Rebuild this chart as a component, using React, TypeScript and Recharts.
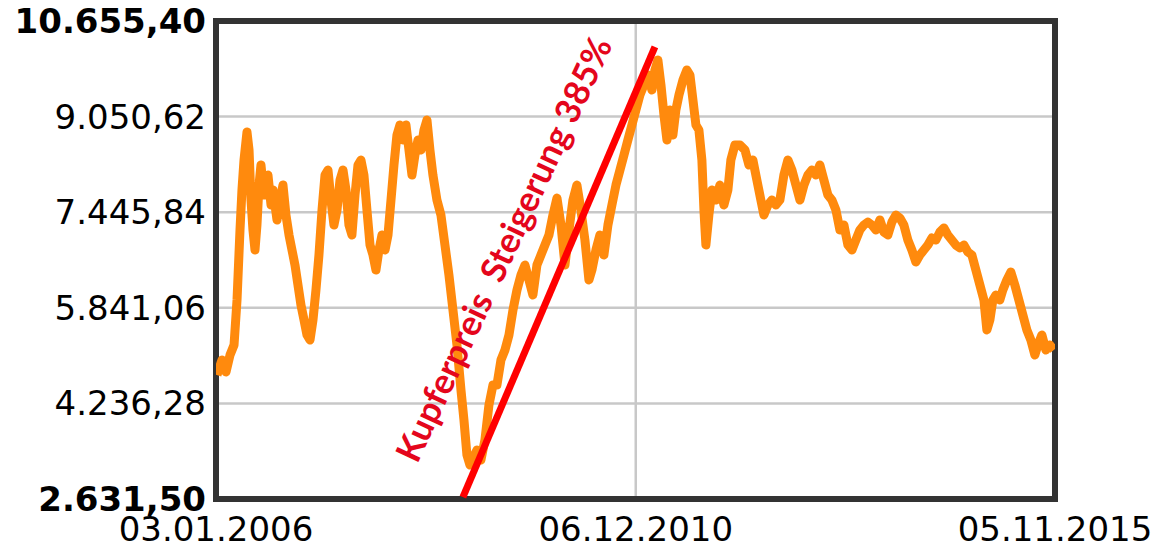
import React from 'react';
import {
  LineChart,
  Line,
  XAxis,
  YAxis,
  CartesianGrid,
  ReferenceArea,
  ReferenceLine,
  ReferenceDot,
} from 'recharts';

// x values are decimal years, prices in USD/t
const years = [
  2006.017, 2006.076, 2006.123, 2006.170, 2006.217, 2006.252, 2006.287, 2006.310, 2006.334, 2006.369,
  2006.393, 2006.416, 2006.439, 2006.463, 2006.486, 2006.510, 2006.533, 2006.568, 2006.592, 2006.615,
  2006.651, 2006.674, 2006.721, 2006.756, 2006.791, 2006.826, 2006.862, 2006.897, 2006.932, 2006.967,
  2007.002, 2007.038, 2007.073, 2007.108, 2007.143, 2007.178, 2007.213, 2007.249, 2007.284, 2007.319,
  2007.354, 2007.389, 2007.425, 2007.460, 2007.495, 2007.530, 2007.565, 2007.600, 2007.636, 2007.671,
  2007.706, 2007.741, 2007.776, 2007.812, 2007.847, 2007.882, 2007.917, 2007.952, 2007.988, 2008.023,
  2008.058, 2008.093, 2008.128, 2008.163, 2008.199, 2008.234, 2008.269, 2008.304, 2008.339, 2008.375,
  2008.410, 2008.445, 2008.480, 2008.515, 2008.550, 2008.597, 2008.644, 2008.691, 2008.738, 2008.785,
  2008.832, 2008.879, 2008.914, 2008.949, 2008.984, 2009.020, 2009.067, 2009.113, 2009.160, 2009.207,
  2009.254, 2009.301, 2009.348, 2009.395, 2009.442, 2009.489, 2009.536, 2009.583, 2009.630, 2009.676,
  2009.723, 2009.770, 2009.817, 2009.864, 2009.911, 2009.958, 2010.005, 2010.052, 2010.099, 2010.146,
  2010.192, 2010.239, 2010.286, 2010.333, 2010.380, 2010.415, 2010.462, 2010.509, 2010.556, 2010.603,
  2010.650, 2010.697, 2010.744, 2010.791, 2010.837, 2010.884, 2010.931, 2010.978, 2011.025, 2011.072,
  2011.119, 2011.154, 2011.189, 2011.225, 2011.260, 2011.295, 2011.330, 2011.365, 2011.400, 2011.436,
  2011.483, 2011.529, 2011.565, 2011.600, 2011.635, 2011.670, 2011.705, 2011.729, 2011.752, 2011.787,
  2011.823, 2011.870, 2011.916, 2011.963, 2012.010, 2012.045, 2012.092, 2012.151, 2012.210, 2012.257,
  2012.303, 2012.350, 2012.397, 2012.432, 2012.479, 2012.526, 2012.573, 2012.620, 2012.667, 2012.714,
  2012.761, 2012.808, 2012.855, 2012.902, 2012.948, 2012.995, 2013.042, 2013.089, 2013.136, 2013.183,
  2013.230, 2013.277, 2013.324, 2013.371, 2013.418, 2013.465, 2013.511, 2013.558, 2013.605, 2013.652,
  2013.699, 2013.746, 2013.793, 2013.840, 2013.887, 2013.934, 2013.981, 2014.028, 2014.074, 2014.121,
  2014.168, 2014.215, 2014.262, 2014.309, 2014.356, 2014.403, 2014.450, 2014.497, 2014.544, 2014.590,
  2014.637, 2014.684, 2014.731, 2014.778, 2014.825, 2014.872, 2014.919, 2014.966, 2015.013, 2015.048,
  2015.083, 2015.118, 2015.153, 2015.200, 2015.235, 2015.282, 2015.329, 2015.376, 2015.423, 2015.470,
  2015.517, 2015.564, 2015.611, 2015.646, 2015.693, 2015.740, 2015.787, 2015.834,
];

const prices = [
  4713, 4965, 4763, 5049, 5216, 5972, 7147, 7818, 8322, 8792,
  8490, 7650, 7147, 6811, 7231, 7902, 8238, 7734, 7986, 8070,
  7567, 7818, 7315, 7650, 7902, 7399, 7063, 6811, 6559, 6224,
  5888, 5636, 5384, 5300, 5636, 6140, 6727, 7483, 8070, 8154,
  7650, 7231, 7483, 7986, 8154, 7818, 7231, 7063, 7734, 8238,
  8322, 8070, 7483, 6895, 6727, 6475, 6811, 7063, 6811, 7063,
  7650, 8238, 8742, 8909, 8658, 8909, 8490, 8070, 8406, 8658,
  8490, 8826, 8993, 8490, 8070, 7650, 7399, 6895, 6391, 5804,
  5216, 4461, 3958, 3370, 3202, 3320, 3454, 3286, 3622, 4209,
  4545, 4545, 4965, 5133, 5384, 5804, 6140, 6391, 6559, 6308,
  6056, 6559, 6727, 6895, 7063, 7399, 7684, 7231, 6559, 7147,
  7650, 7902, 7483, 6979, 6308, 6475, 6811, 7063, 6727, 7231,
  7567, 7902, 8154, 8406, 8658, 8909, 9161, 9413, 9581, 9749,
  9497, 9833, 10000, 9581, 9077, 8658, 9161, 8742, 9161, 9413,
  9665, 9833, 9749, 9329, 8909, 8826, 8322, 7483, 6895, 7399,
  7818, 7650, 7902, 7567, 7818, 8322, 8574, 8574, 8490, 8238,
  8322, 7986, 7650, 7399, 7567, 7650, 7567, 7650, 8070, 8322,
  8154, 7902, 7650, 7902, 8070, 8154, 8070, 8238, 7986, 7734,
  7650, 7483, 7147, 7231, 6895, 6811, 6979, 7147, 7231, 7281,
  7231, 7147, 7315, 7113, 7063, 7281, 7399, 7348, 7231, 6979,
  6811, 6610, 6727, 6811, 6895, 7013, 6979, 7113, 7180, 7063,
  6979, 6895, 6845, 6895, 6778, 6727, 6475, 6224, 5972, 5468,
  5636, 5972, 6056, 5972, 6140, 6308, 6442, 6224, 5972, 5720,
  5468, 5300, 5049, 5216, 5384, 5133, 5216, 5133,
];

const xTicks = [2006.0055, 2010.929, 2015.847];
const xTickLabels = ['03.01.2006', '06.12.2010', '05.11.2015'];

const yTicks = [2631.5, 4236.28, 5841.06, 7445.84, 9050.62, 10655.4];
const yTickLabels = ['2.631,50', '4.236,28', '5.841,06', '7.445,84', '9.050,62', '10.655,40'];

// red trend annotation (start / end of the rise)
const trendStart = { x: 2008.902, y: 2665 };
const trendEnd = { x: 2011.154, y: 10219 };
const trendText = 'Kupferpreis  Steigerung 385%';
const trendTextAt = { x: 2009.42, y: 6800 };

const data = years.map((x, i) => ({ x, price: prices[i] }));

const FONT = '"DejaVu Sans", Verdana, sans-serif';

const YTick = (props: any) => {
  const { x, y, payload } = props;
  const idx = yTicks.indexOf(payload.value);
  const bold = idx === 0 || idx === yTicks.length - 1;
  return (
    <text
      x={x}
      y={y}
      dy="0.355em"
      textAnchor="end"
      fontSize={34}
      fontFamily={FONT}
      fontWeight={bold ? 'bold' : 'normal'}
      fill="#000"
    >
      {yTickLabels[idx]}
    </text>
  );
};

const XTick = (props: any) => {
  const { x, y, payload } = props;
  const idx = xTicks.indexOf(payload.value);
  return (
    <text x={x} y={y} dy="0.71em" textAnchor="middle" fontSize={34} fontFamily={FONT} fill="#000">
      {xTickLabels[idx]}
    </text>
  );
};

const TrendLabel = (props: any) => {
  const { cx, cy } = props;
  return (
    <text
      x={cx}
      y={cy}
      textAnchor="middle"
      dominantBaseline="middle"
      transform={`rotate(-65, ${cx}, ${cy})`}
      fontSize={35}
      fontWeight="bold"
      fontFamily="Lato, 'Open Sans', sans-serif"
      fill="#e4061c"
      style={{ whiteSpace: 'pre' }}
    >
      {trendText}
    </text>
  );
};

const App: React.FC = () => {
  return (
    <div style={{ position: 'absolute', left: 0, top: 0, width: 1158, height: 549, background: '#fff' }}>
      <LineChart
        width={1158}
        height={549}
        data={data}
        margin={{ top: 21, right: 103, left: 0, bottom: 0 }}
      >
        <CartesianGrid stroke="#c8c8c8" strokeWidth={2.5} />
        <XAxis
          dataKey="x"
          type="number"
          domain={[xTicks[0], xTicks[2]]}
          ticks={xTicks}
          interval={0}
          height={50}
          axisLine={false}
          tickLine={false}
          tickSize={0}
          tickMargin={18}
          tick={<XTick />}
          allowDataOverflow
        />
        <YAxis
          type="number"
          domain={[yTicks[0], yTicks[yTicks.length - 1]]}
          ticks={yTicks}
          interval={0}
          width={216}
          axisLine={false}
          tickLine={false}
          tickSize={0}
          tickMargin={10}
          tick={<YTick />}
          allowDataOverflow
        />
        <Line
          type="linear"
          dataKey="price"
          stroke="#ff8a0d"
          strokeWidth={9}
          strokeLinejoin="round"
          dot={false}
          activeDot={false}
          isAnimationActive={false}
        />
        <ReferenceLine
          segment={[trendStart, trendEnd]}
          stroke="#ff0000"
          strokeWidth={7}
          ifOverflow="visible"
        />
        <ReferenceDot
          x={trendTextAt.x}
          y={trendTextAt.y}
          r={0}
          ifOverflow="visible"
          shape={<TrendLabel />}
        />
        <ReferenceArea
          x1={xTicks[0]}
          x2={xTicks[2]}
          y1={yTicks[0]}
          y2={yTicks[yTicks.length - 1]}
          fill="none"
          fillOpacity={0}
          stroke="#333333"
          strokeWidth={6}
          ifOverflow="visible"
        />
      </LineChart>
    </div>
  );
};

export default App;
